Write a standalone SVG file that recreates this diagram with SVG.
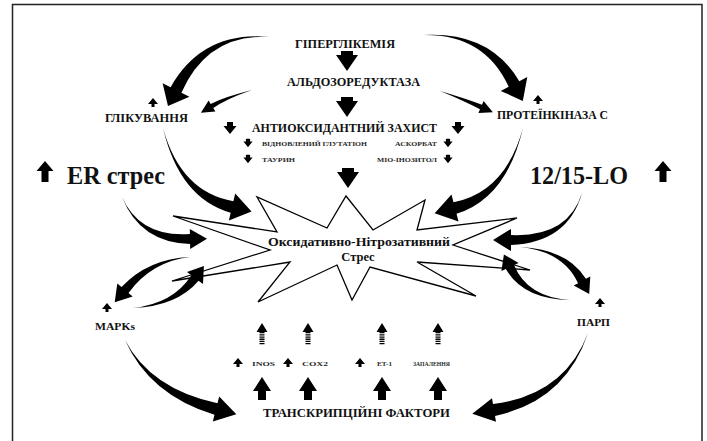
<svg xmlns="http://www.w3.org/2000/svg" width="707" height="441" viewBox="0 0 707 441">
<defs>
<style>
text{font-family:"Liberation Serif","Times New Roman",serif;font-weight:bold;fill:#111}
.m{font-size:12px}
.s{font-size:6.5px;fill:#2a2a2a}
.t{font-size:7px;fill:#2a2a2a}
.big{font-size:25px}
.arr{fill:#000}
.star{fill:#fff;stroke:#000;stroke-width:1.3;stroke-linejoin:miter}
</style>
<path id="db" d="M-6,0 L6,0 L6,4 L11,4 L0,20 L-11,4 L-6,4 Z"/>
<path id="dm" d="M-3,-6 L3,-6 L3,-2 L6.5,-2 L0,6 L-6.5,-2 L-3,-2 Z"/>
<path id="us" d="M0,-5 L5,1 L1.5,1 L1.5,4 L-1.5,4 L-1.5,1 L-5,1 Z"/>
<path id="ub" d="M0,0 L9,14 L4,14 L4,23 L-4,23 L-4,14 L-9,14 Z"/>
<path id="ua" d="M0,0 L8.5,10 L3.5,10 L3.5,21 L-3.5,21 L-3.5,10 L-8.5,10 Z"/>
<g id="stripe">
<path d="M0,0 L5.5,9 L-5.5,9 Z"/>
<line x1="0" y1="9" x2="0" y2="22" stroke="#000" stroke-width="5" stroke-dasharray="1.3 0.9"/>
</g>
</defs>
<rect x="0" y="0" width="707" height="441" fill="#fff"/>
<rect x="12.5" y="4.5" width="689.5" height="450" fill="none" stroke="#222" stroke-width="1.5"/>

<g id="star-node">
<polygon class="star" points="346,196 373,230 425,200 417,230 517,218 453,245 530,270 417,262 476,296 370,267 352,300 337,265 258,302 290,262 172,281 270,250 173,216 277,232 257,197 327,228"/>
</g>

<g id="connectors" class="arr">
<path d="M270,37 Q202.3,30.7 170.6,87.3 L162.6,83.3 L168,106.1 L189.4,96.7 L181.4,92.7 Q207.7,33.3 270,37 Z"/>
<path d="M422,35 Q484.3,33.4 508.7,86.8 L500.7,90.9 L522.8,100.9 L527.3,77.1 L519.3,81.2 Q489.7,30.6 422,35 Z"/>
<path d="M252,90 Q224.3,96.9 210.7,103.9 L208.6,100.5 L200.9,112.8 L215.4,111.5 L213.3,108.1 Q225.7,99.1 252,90 Z"/>
<path d="M440,91 Q462.5,100.1 480,109.3 L478.4,112.9 L492.9,112.3 L483.6,101.1 L482,104.7 Q463.5,97.9 440,91 Z"/>
<path d="M163,128 Q179.3,197.9 230.7,212.8 L228.9,220.6 L251.5,211.5 L235.2,193.4 L233.4,201.2 Q180.7,192.1 163,128 Z"/>
<path d="M523,128 Q505.3,192.1 453.5,202.2 L451.5,194.4 L434.7,213.2 L458.5,221.6 L456.5,213.8 Q506.7,197.9 523,128 Z"/>
<path d="M122,197 Q140,242.5 190.1,244 L190.2,249 L207,238.7 L189.8,229 L189.9,234 Q140,237.5 122,197 Z"/>
<path d="M582,193 Q568,237.5 511,235 L511,229 L493,240 L511,251 L511,245 Q568,242.5 582,193 Z"/>
<path d="M190,257 Q148.3,258.6 121.5,287.1 L117.3,283.6 L114.7,302.3 L132.7,296.4 L128.5,292.9 Q151.7,261.4 190,257 Z"/>
<path d="M133,308 Q176.8,306.3 198.6,280.7 L203,284 L203.9,265.9 L187,272 L191.4,275.3 Q173.2,303.7 133,308 Z"/>
<path d="M520,247 Q563,251.1 578.1,283.2 L573.7,285.6 L589.2,294.1 L590.3,276.4 L585.9,278.8 Q567,248.9 520,247 Z"/>
<path d="M570,300 Q527,297 514.1,265 L518.6,262.9 L503.9,254.4 L501.4,271.1 L505.9,269 Q523,299 570,300 Z"/>
<path d="M125,340 Q149.3,394.9 214.5,414.8 L212.8,421.6 L236.3,414.2 L219.2,396.4 L217.5,403.2 Q150.7,389.1 125,340 Z"/>
<path d="M588,333 Q564.5,395 493,404.1 L492,398.2 L472.3,413.7 L496,421.8 L495,415.9 Q565.5,401 588,333 Z"/>
<use href="#db" x="347" y="51"/>
<use href="#db" x="347" y="97"/>
<use href="#db" x="348" y="168"/>
<use href="#ub" x="262" y="377"/>
<use href="#ub" x="308" y="377"/>
<use href="#ub" x="382" y="377"/>
<use href="#ub" x="438" y="377"/>
</g>

<g id="n-hyperglycemia"><text class="m" x="295" y="48" textLength="100" lengthAdjust="spacingAndGlyphs">ГІПЕРГЛІКЕМІЯ</text></g>
<g id="n-aldose"><text class="m" x="287" y="86" textLength="133" lengthAdjust="spacingAndGlyphs">АЛЬДОЗОРЕДУКТАЗА</text></g>
<g id="n-antiox">
<use href="#dm" x="230" y="128"/><use href="#dm" x="458" y="128"/>
<text class="m" x="252" y="132" textLength="185" lengthAdjust="spacingAndGlyphs" style="font-size:12.5px">АНТИОКСИДАНТНИЙ ЗАХИСТ</text>
<use href="#dm" transform="translate(248,143) scale(0.7)"/>
<use href="#dm" transform="translate(248,159) scale(0.7)"/>
<use href="#dm" transform="translate(448,143) scale(0.7)"/>
<use href="#dm" transform="translate(448,159) scale(0.7)"/>
<text class="s" x="262" y="145.5" textLength="105" lengthAdjust="spacingAndGlyphs">ВІДНОВЛЕНИЙ ГЛУТАТІОН</text>
<text class="s" x="395" y="145.5" textLength="42" lengthAdjust="spacingAndGlyphs">АСКОРБАТ</text>
<text class="s" x="262" y="161.5" textLength="33" lengthAdjust="spacingAndGlyphs">ТАУРИН</text>
<text class="s" x="377" y="161.5" textLength="60" lengthAdjust="spacingAndGlyphs">МІО-ІНОЗИТОЛ</text>
</g>
<g id="n-glycation"><use href="#us" x="153" y="103"/><text class="m" x="105" y="122" textLength="83" lengthAdjust="spacingAndGlyphs" style="font-size:11.5px">ГЛІКУВАННЯ</text></g>
<g id="n-pkc"><use href="#us" x="538" y="100"/><text class="m" x="497" y="119" textLength="111" lengthAdjust="spacingAndGlyphs" style="font-size:11.5px">ПРОТЕЇНКІНАЗА С</text></g>
<g id="n-er"><use href="#ua" x="45" y="161"/><text class="big" x="67" y="184" textLength="98" lengthAdjust="spacingAndGlyphs">ER стрес</text></g>
<g id="n-lo"><use href="#ua" x="663" y="161"/><text class="big" x="530" y="184" textLength="98" lengthAdjust="spacingAndGlyphs">12/15-LO</text></g>
<g id="n-stress">
<text class="m" x="268" y="246" textLength="182" lengthAdjust="spacingAndGlyphs" style="font-size:12.5px">Оксидативно-Нітрозативний</text>
<text class="m" x="358" y="261" text-anchor="middle" style="font-size:12.5px">Стрес</text>
</g>
<g id="n-mapk"><use href="#us" x="107" y="308"/><text class="m" x="95" y="330" textLength="40" lengthAdjust="spacingAndGlyphs" style="font-size:11px">MAPKs</text></g>
<g id="n-parp"><use href="#us" x="600" y="303"/><text class="m" x="577" y="326" textLength="33" lengthAdjust="spacingAndGlyphs" style="font-size:11px">ПАРП</text></g>
<g id="n-inos"><use href="#stripe" x="262" y="323"/><use href="#us" x="238" y="363"/><text class="t" x="252" y="366" textLength="23" lengthAdjust="spacingAndGlyphs">INOS</text></g>
<g id="n-cox2"><use href="#stripe" x="308" y="323"/><use href="#us" x="288" y="363"/><text class="t" x="302" y="366" textLength="26" lengthAdjust="spacingAndGlyphs">COX2</text></g>
<g id="n-et1"><use href="#stripe" x="382" y="323"/><use href="#us" x="360" y="363"/><text class="t" x="377" y="366" textLength="15" lengthAdjust="spacingAndGlyphs">ET-1</text></g>
<g id="n-infl"><use href="#stripe" x="438" y="323"/><text class="t" x="413" y="366" textLength="37" lengthAdjust="spacingAndGlyphs">ЗАПАЛЕННЯ</text></g>
<g id="n-tf"><text class="m" x="263" y="417" textLength="187" lengthAdjust="spacingAndGlyphs">ТРАНСКРИПЦІЙНІ ФАКТОРИ</text></g>
</svg>
